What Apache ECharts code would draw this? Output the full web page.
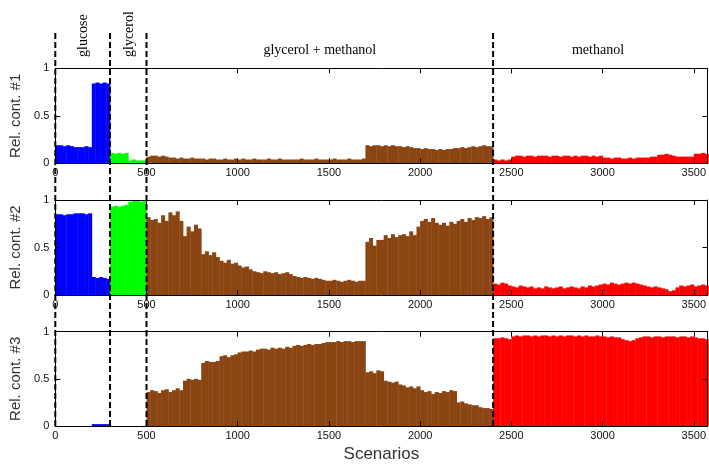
<!DOCTYPE html>
<html>
<head>
<meta charset="utf-8">
<script src="https://cdn.jsdelivr.net/npm/echarts@6/dist/echarts.min.js"></script>
<style>html,body{margin:0;padding:0;background:#fff;}#c{width:709px;height:464px;}</style>
</head>
<body>
<div id="c"></div>
<script>
// ---------- data ----------
const BIN = 20;                       // scenarios per drawn bin
const segmentStarts = [0, 300, 500, 2400];
const segmentNames = ['glucose', 'glycerol', 'glycerol + methanol', 'methanol'];
const segmentLabelX = [150, 400, 1450, 2975];
const segmentColors = ['#0000ff', '#00ff00', '#8b4513', '#ff0000'];
const panelTitles = ['Rel. cont. #1', 'Rel. cont. #2', 'Rel. cont. #3'];
const xMax = 3575;

// panel 1
const p1Glucose = [0.19,0.19,0.18,0.19,0.18,0.17,0.17,0.17,0.18,0.17, 0.84,0.85,0.84,0.85,0.84];
const p1Glycerol = [0.11,0.10,0.11,0.10,0.11, 0.03,0.04,0.03,0.03,0.03];
const p1Mixed = [0.07,0.08,0.08,0.07,0.08,0.07,0.06,0.06,0.05,0.06,
  0.05,0.05,0.06,0.05,0.05,
  0.05,0.04,0.05,0.05,0.04,0.04,0.05,0.04,0.04,0.05,
  0.04,0.05,0.04,0.04,0.05,0.04,0.04,0.04,0.05,0.04,0.04,0.05,0.04,0.04,0.04,
  0.04,0.04,0.05,0.04,0.04,0.04,0.05,0.04,0.04,0.04,0.04,0.05,0.04,0.04,0.04,0.05,0.04,0.04,0.04,0.05,
  0.19,0.18,0.19,0.19,0.18,0.19,0.18,0.19,0.18,0.18,0.17,0.18,0.17,0.16,0.16,0.15,0.16,0.15,0.15,0.14,
  0.15,0.14,0.15,0.15,0.16,0.16,0.17,0.16,0.17,0.18,0.17,0.18,0.19,0.18,0.18];
const p1Methanol = [0.04,0.03,0.04,0.03,0.04,
  0.07,0.08,0.08,0.07,0.08,0.08,0.07,0.08,0.08,0.08,0.07,0.08,0.08,0.07,0.08,0.08,0.07,0.08,0.07,0.08,0.08,0.07,0.08,0.07,0.08,
  0.06,0.06,0.05,0.06,0.06,0.05,0.05,0.06,0.05,0.06,0.06,0.06,0.06,0.07,0.07,
  0.09,0.09,0.10,0.09,0.08,
  0.07,0.07,0.07,0.07,0.07,
  0.10,0.10,0.11,0.10];

// panel 2
const p2Glucose = [0.85,0.85,0.84,0.85,0.85,0.86,0.86,0.86,0.85,0.86, 0.19,0.18,0.19,0.18,0.17];
const p2Glycerol = [0.93,0.94,0.93,0.94,0.95, 0.98,0.99,0.99,0.98,0.99];
const p2Mixed = [0.82,0.79,0.80,
  0.76,0.84,0.78,
  0.87,0.84,0.88,0.78,
  0.62,
  0.72,0.67,0.74,0.70,
  0.43,0.46,0.42,0.45,0.40,
  0.36,0.34,0.37,0.33,0.34,
  0.31,0.29,0.30,0.27,
  0.25,0.24,0.23,0.25,0.24,0.23,0.24,0.22,0.23,0.24,0.22,
  0.20,0.19,0.18,0.19,0.18,0.17,0.18,0.17,
  0.16,0.15,0.15,0.16,0.15,0.14,0.15,0.16,0.15,0.14,0.15,0.15,
  0.56,0.60,0.52,0.58,
  0.58,0.63,0.60,0.64,0.61,0.63,
  0.64,0.62,0.67,0.63,
  0.72,0.78,0.80,0.77,0.81,0.76,
  0.74,0.76,0.73,0.77,0.75,
  0.78,0.80,0.77,0.81,0.79,
  0.82,0.81,0.83,0.80,0.82];
const p2Methanol = [0.12,0.11,0.13,0.12,0.10,
  0.09,0.08,0.10,0.09,0.08,0.09,0.07,
  0.08,0.07,0.09,0.08,0.07,0.08,0.09,0.07,0.08,0.09,0.08,0.07,0.09,0.08,0.10,0.09,0.10,0.11,
  0.12,0.11,0.13,0.12,0.11,0.12,0.13,0.12,0.13,0.12,0.11,
  0.10,0.09,0.08,0.09,0.08,0.07,0.06,
  0.04,0.05,
  0.08,0.10,0.09,0.10,0.11,0.09,0.10,0.11,0.10];

// panel 3
const p3Glucose = [0,0,0,0,0,0,0,0,0,0, 0.02,0.02,0.02,0.02,0.02];
const p3Glycerol = [0,0,0,0,0,0,0,0,0,0];
const p3Mixed = [0.36,0.38,0.37,0.35,0.38,0.39,0.36,0.38,0.40,0.38,
  0.48,0.50,0.49,0.50,0.49,
  0.67,0.69,0.68,0.68,0.69,
  0.74,0.75,0.73,0.75,0.76,
  0.78,0.79,0.79,0.80,0.79,
  0.81,0.82,0.82,0.81,0.83,0.82,0.83,0.82,0.84,0.83,
  0.85,0.86,0.85,0.86,0.87,0.86,0.87,0.87,
  0.88,0.89,0.89,0.89,0.90,0.89,0.90,0.90,0.89,0.90,0.90,0.90,
  0.57,0.58,0.56,0.59,0.58,
  0.48,0.47,0.46,0.47,
  0.44,0.43,0.41,0.42,0.40,0.42,
  0.38,0.36,0.37,0.34,0.36,0.35,0.37,0.36,0.38,0.37,
  0.25,0.26,0.24,0.23,0.22,0.22,
  0.20,0.19,0.19,0.18];
const p3Methanol = [0.93,0.93,0.94,0.93,0.92,
  0.95,0.96,0.95,0.96,0.96,0.95,0.96,0.95,0.96,0.96,0.95,0.96,0.95,0.96,0.95,0.96,0.96,0.95,0.96,0.95,0.96,0.95,0.95,0.96,0.95,
  0.95,0.94,0.95,0.94,0.94,
  0.92,0.91,0.90,0.91,0.93,
  0.94,0.95,0.95,0.94,0.95,0.95,0.94,0.95,0.95,0.95,0.94,0.95,0.95,0.94,0.95,
  0.94,0.93,0.93,0.92];

const panels = [
  [p1Glucose, p1Glycerol, p1Mixed, p1Methanol],
  [p2Glucose, p2Glycerol, p2Mixed, p2Methanol],
  [p3Glucose, p3Glycerol, p3Mixed, p3Methanol]
];

// ---------- chart ----------
function buildPanel(arrs) {
  const out = [];
  arrs.forEach((arr, s) => arr.forEach((v, i) => out.push([segmentStarts[s] + i * BIN, v, s])));
  return out;
}

const chart = echarts.init(document.getElementById('c'), null, {renderer: 'canvas'});
const gridTops = [68.3, 200, 331.7];
const gridH = 95;
const FONT = 'Liberation Sans, Arial, Helvetica, sans-serif';
const SERIF = 'Liberation Serif, Times New Roman, serif';

const grids = [], xAxes = [], yAxes = [], series = [];
gridTops.forEach((t, i) => {
  grids.push({left: 55.3, right: 0, top: t, height: gridH});
});
gridTops.forEach((t, i) => {
  xAxes.push({
    type: 'value', gridIndex: i, min: 0, max: xMax, interval: 500, position: 'bottom', z: 5,
    axisLine: {show: true, onZero: false, lineStyle: {color: '#000', width: 1}},
    axisTick: {show: true, inside: true, length: 5, lineStyle: {color: '#000'}},
    axisLabel: {show: true, fontSize: 11, color: '#111', fontFamily: FONT, margin: 4, showMaxLabel: false,
      formatter: v => (v % 500 === 0 ? String(v) : '')},
    splitLine: {show: false},
    name: i === 2 ? 'Scenarios' : '', nameLocation: 'middle', nameGap: 20,
    nameTextStyle: {fontSize: 17, color: '#333', fontFamily: FONT}
  });
});
gridTops.forEach((t, i) => {
  xAxes.push({
    type: 'value', gridIndex: i, min: 0, max: xMax, interval: 500, position: 'top', z: 5,
    axisLine: {show: true, onZero: false, lineStyle: {color: '#000', width: 1}},
    axisTick: {show: true, inside: true, length: 5, lineStyle: {color: '#000'}},
    axisLabel: {show: false}, splitLine: {show: false}
  });
});
gridTops.forEach((t, i) => {
  yAxes.push({
    type: 'value', gridIndex: i, min: 0, max: 1, interval: 0.5, position: 'left', z: 5,
    axisLine: {show: true, onZero: false, lineStyle: {color: '#000', width: 1}},
    axisTick: {show: true, inside: true, length: 5, lineStyle: {color: '#000'}},
    axisLabel: {show: true, fontSize: 11, color: '#111', fontFamily: FONT, margin: 6},
    splitLine: {show: false},
    name: panelTitles[i], nameLocation: 'middle', nameGap: 24,
    nameTextStyle: {fontSize: 15, color: '#333', fontFamily: FONT}
  });
});
gridTops.forEach((t, i) => {
  yAxes.push({
    type: 'value', gridIndex: i, min: 0, max: 1, interval: 0.5, position: 'right', z: 5,
    axisLine: {show: true, onZero: false, lineStyle: {color: '#000', width: 1}},
    axisTick: {show: true, inside: true, length: 5, lineStyle: {color: '#000'}},
    axisLabel: {show: false}, splitLine: {show: false}
  });
});

panels.forEach((arrs, i) => {
  series.push({
    type: 'custom', xAxisIndex: i, yAxisIndex: i, z: 2, silent: true,
    data: buildPanel(arrs),
    renderItem: function (params, api) {
      const x0 = api.value(0), v = api.value(1), s = api.value(2);
      const a = api.coord([x0, 0]);
      const b = api.coord([x0 + BIN, v]);
      return {
        type: 'rect',
        shape: {x: a[0], y: b[1], width: b[0] - a[0] + 0.4, height: a[1] - b[1]},
        style: {fill: segmentColors[s]}
      };
    }
  });
});

chart.setOption({
  animation: false,
  backgroundColor: '#fff',
  grid: grids, xAxis: xAxes, yAxis: yAxes, series: series
});

// dashed separators and section labels, positioned through the axis scales
const graphics = [];
const topY = 33;
segmentStarts.forEach(x => {
  const bottom = chart.convertToPixel({gridIndex: 2}, [x, 0]);
  graphics.push({
    type: 'line', z: 100,
    shape: {x1: bottom[0], y1: topY, x2: bottom[0], y2: bottom[1]},
    style: {stroke: '#000', lineWidth: 2, lineDash: [6, 3]}
  });
});
segmentNames.forEach((name, i) => {
  const p = chart.convertToPixel({gridIndex: 0}, [segmentLabelX[i], 1]);
  if (i < 2) {
    graphics.push({
      type: 'text', z: 100, x: p[0] + 1, y: 57, rotation: Math.PI / 2,
      style: {text: name, fontSize: 14, fontFamily: SERIF, fill: '#000', align: 'left', verticalAlign: 'middle'}
    });
  } else {
    graphics.push({
      type: 'text', z: 100, x: p[0], y: 57,
      style: {text: name, fontSize: 14, fontFamily: SERIF, fill: '#000', align: 'center', verticalAlign: 'bottom'}
    });
  }
});
chart.setOption({graphic: graphics});
</script>
</body>
</html>
